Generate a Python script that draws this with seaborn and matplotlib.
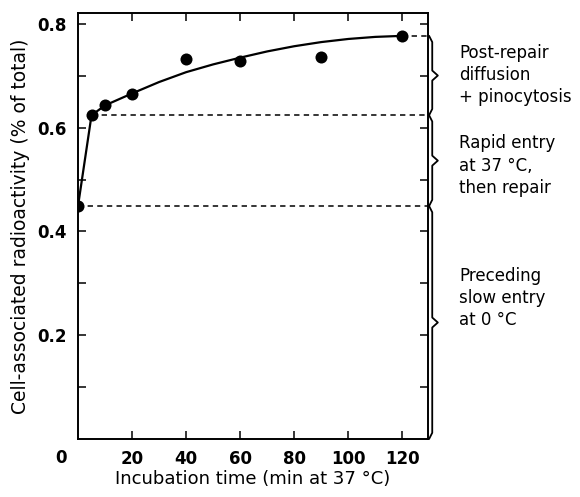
import numpy as np
import pandas as pd
import seaborn as sns
import matplotlib.pyplot as plt
import matplotlib.transforms as mtransforms

# measured points
time_pts = [0, 5, 10, 20, 40, 60, 90, 120]
activity = [0.449, 0.624, 0.643, 0.664, 0.732, 0.729, 0.737, 0.777]

# fitted curve
curve_t = [0, 5, 10, 20, 30, 40, 50, 60, 70, 80, 90, 100, 110, 120]
curve_y = [0.449, 0.624, 0.643, 0.666, 0.688, 0.707, 0.722, 0.735, 0.747, 0.757,
           0.765, 0.771, 0.775, 0.777]

# dashed levels and where they start
level_y = [0.777, 0.624, 0.449]
level_x = [120, 5, 0]

# brace ranges (top, bottom) and labels
brace_top = [0.777, 0.624, 0.449]
brace_bot = [0.624, 0.449, 0.0]
brace_text = ["Post-repair\ndiffusion\n+ pinocytosis",
              "Rapid entry\nat 37 \u00b0C,\nthen repair",
              "Preceding\nslow entry\nat 0 \u00b0C"]
text_top = [0.762, 0.587, 0.332]

sns.set_style("ticks")
plt.rcParams['font.family'] = ['DejaVu Sans']
plt.rcParams['text.color'] = 'black'
plt.rcParams['axes.labelcolor'] = 'black'
plt.rcParams['xtick.color'] = 'black'
plt.rcParams['ytick.color'] = 'black'
plt.rcParams['axes.edgecolor'] = 'black'

fig = plt.figure(figsize=(5.8, 4.97), dpi=100)
ax = fig.add_axes([0.1345, 0.1167, 0.6035, 0.8571])

pts = pd.DataFrame({"t": time_pts, "y": activity})
crv = pd.DataFrame({"t": curve_t, "y": curve_y})

sns.lineplot(data=crv, x="t", y="y", ax=ax, color="black", lw=1.6,
             estimator=None, sort=False)
ax.hlines(level_y, level_x, 130, colors="black", linestyles=(0, (3.5, 2.8)), lw=1.1)
sns.scatterplot(data=pts, x="t", y="y", ax=ax, color="black", s=75,
                edgecolor="black", linewidth=0, zorder=5)

ax.set_xlim(0, 129.5)
ax.set_ylim(0, 0.821)
ax.set_xticks([20, 40, 60, 80, 100, 120])
ax.set_yticks([0.2, 0.4, 0.6, 0.8])
ax.set_yticks([0.1, 0.3, 0.5, 0.7], minor=True)
ax.tick_params(which="both", direction="in", top=True, right=True, length=6,
               width=1.1, labelsize=12, pad=8)
for lab in ax.get_xticklabels() + ax.get_yticklabels():
    lab.set_fontweight("bold")
for sp in ax.spines.values():
    sp.set_linewidth(1.4)

# lone "0" label sits left of the axis origin
off = mtransforms.offset_copy(ax.transData, fig=fig, x=-17, y=-9.5, units="dots")
ax.text(0, 0, "0", transform=off, ha="center", va="top", fontsize=12,
        fontweight="bold")

ax.set_xlabel("Incubation time (min at 37 \u00b0C)", fontsize=13, labelpad=1.5)
ax.set_ylabel("Cell-associated radioactivity (% of total)", fontsize=13.5,
              labelpad=5)

# braces on the right
tr = mtransforms.blended_transform_factory(ax.transAxes, ax.transData)
for top, bot, txt, ty in zip(brace_top, brace_bot, brace_text, text_top):
    mid = (top + bot) / 2
    d = 0.012
    xs = [1.003, 1.012, 1.012, 1.028, 1.012, 1.012, 1.003]
    ys = [top, top - d, mid + d * 0.8, mid, mid - d * 0.8, bot + d, bot]
    ax.plot(xs, ys, color="black", lw=1.3, transform=tr, clip_on=False)
    ax.text(1.089, ty, txt, transform=tr, ha="left", va="top", fontsize=12,
            linespacing=1.3)

fig.savefig("out.png", dpi=100)
